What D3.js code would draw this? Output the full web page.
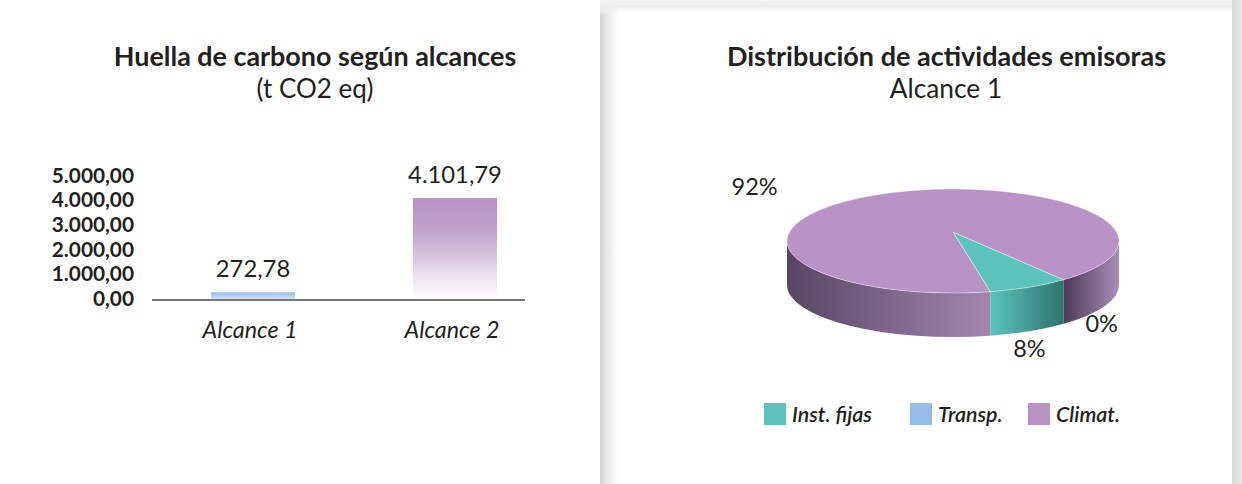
<!DOCTYPE html>
<html>
<head>
<meta charset="utf-8">
<script src="https://cdn.jsdelivr.net/npm/d3@7"></script>
<style>
  html, body { margin: 0; padding: 0; background: #ffffff; }
  svg { display: block; font-family: Lato, "Noto Sans", sans-serif; }
</style>
</head>
<body>
<svg id="chart" width="1242" height="484"></svg>
<script>
// ---------- DATA ----------
const barCategories = ["Alcance 1", "Alcance 2"];
const barValues = [272.78, 4101.79];
const barValueLabels = ["272,78", "4.101,79"];
const barTicks = [0, 1000, 2000, 3000, 4000, 5000];
const barTickLabels = ["0,00", "1.000,00", "2.000,00", "3.000,00", "4.000,00", "5.000,00"];

const pieCategories = ["Inst. fijas", "Transp.", "Climat."];
const pieValues = [8, 0, 92];
const pieLabels = ["8%", "0%", "92%"];

// ---------- STYLE ----------
const pieColors = ["#5cc4bc", "#94bde6", "#b794c3"];
const textColor = "#231f20";

const svg = d3.select("#chart");
const defs = svg.append("defs");

function linGrad(id, x1, y1, x2, y2, stops, userSpace) {
  const g = defs.append("linearGradient").attr("id", id)
    .attr("x1", x1).attr("y1", y1).attr("x2", x2).attr("y2", y2);
  if (userSpace) g.attr("gradientUnits", "userSpaceOnUse");
  stops.forEach(s => g.append("stop").attr("offset", s[0]).attr("stop-color", s[1]));
  return "url(#" + id + ")";
}

// ---------- RIGHT CARD BACKGROUND ----------
const card = svg.append("g");
card.append("rect").attr("x", 1232).attr("y", 0).attr("width", 10).attr("height", 484)
  .attr("fill", linGrad("gR", 0, 0, 1, 0, [[0, "#d9d9d9"], [1, "#e6e6e6"]]));
card.append("rect").attr("x", 600).attr("y", 0).attr("width", 18).attr("height", 484)
  .attr("fill", linGrad("gL", 0, 0, 1, 0, [[0, "#d2d2d2"], [0.5, "#ececec"], [1, "#ffffff"]]));
card.append("rect").attr("x", 600).attr("y", 0).attr("width", 632).attr("height", 16)
  .attr("fill", linGrad("gT", 0, 0, 0, 1, [[0, "#f4f4f4"], [0.4, "#ececec"], [1, "rgba(255,255,255,0)"]]));

// ---------- BAR CHART ----------
const x = d3.scaleBand().domain(barCategories).range([152, 556]).paddingInner(0.584).paddingOuter(0.292);
const y = d3.scaleLinear().domain([0, 5000]).range([299, 176]);

const barGrads = [
  linGrad("gb0", 0, 0, 0, 1, [[0, "#96bde5"], [1, "#d2e2f3"]]),
  linGrad("gb1", 0, 0, 0, 1, [[0, "#b692c2"], [0.35, "#c2a5cd"], [1, "#ffffff"]])
];

const bars = svg.append("g");
bars.selectAll("rect").data(barValues).join("rect")
  .attr("x", (d, i) => x(barCategories[i]))
  .attr("width", x.bandwidth())
  .attr("y", d => y(d))
  .attr("height", d => y(0) - y(d))
  .attr("fill", (d, i) => barGrads[i]);

// value labels
bars.selectAll("text").data(barValues).join("text")
  .attr("x", (d, i) => x(barCategories[i]) + x.bandwidth() / 2)
  .attr("y", d => y(d) - 15)
  .attr("text-anchor", "middle")
  .attr("font-size", 23.8)
  .attr("fill", textColor)
  .text((d, i) => barValueLabels[i]);

// y axis
const yAxis = d3.axisLeft(y).tickValues(barTicks).tickSize(0).tickPadding(0)
  .tickFormat((d, i) => barTickLabels[i]);
const yg = svg.append("g").attr("transform", "translate(134,0)").call(yAxis);
yg.select(".domain").remove();
yg.selectAll("text").attr("font-family", "Lato").attr("font-size", 20.8).attr("font-weight", 700)
  .attr("fill", textColor).attr("dy", "0.3em");

// x axis
const xAxis = d3.axisBottom(x).tickSize(0).tickPadding(0);
const xg = svg.append("g").attr("transform", "translate(-3,300)").call(xAxis);
xg.select(".domain").remove();
xg.selectAll("text").attr("font-family", "Lato").attr("font-size", 23.3).attr("font-style", "italic")
  .attr("fill", textColor).attr("dy", 0).attr("y", 38);
svg.append("line").attr("x1", 152).attr("x2", 525).attr("y1", 300).attr("y2", 300)
  .attr("stroke", "#767676").attr("stroke-width", 2);

// titles
svg.append("text").attr("x", 315).attr("y", 66).attr("text-anchor", "middle")
  .attr("font-size", 26.9).attr("font-weight", 700).attr("fill", textColor)
  .text("Huella de carbono según alcances");
svg.append("text").attr("x", 315).attr("y", 98).attr("text-anchor", "middle")
  .attr("font-size", 26).attr("fill", textColor).text("(t CO2 eq)");
svg.append("text").attr("x", 946.5).attr("y", 66).attr("text-anchor", "middle")
  .attr("font-size", 27).attr("font-weight", 700).attr("fill", textColor)
  .text("Distribución de actividades emisoras");
svg.append("text").attr("x", 946).attr("y", 98).attr("text-anchor", "middle")
  .attr("font-size", 26.3).attr("fill", textColor).text("Alcance 1");

// ---------- 3D PIE ----------
const cx = 953, cy = 241, rx = 166, ry = 52, depth = 44;
const apex = [953, 232];
const deg = Math.PI / 180;
const start = 167 * deg;
const pie = d3.pie().sort(null).value(d => d).startAngle(start).endAngle(start - 2 * Math.PI);
const arcs = pie(pieValues);

const P = (a, dy = 0) => [cx + rx * Math.sin(a), cy - ry * Math.cos(a) + dy];

function arcSeg(a0, a1, dy) {
  const p1 = P(a1, dy);
  const large = (a1 - a0) > Math.PI ? 1 : 0;
  return `A${rx},${ry} 0 ${large} 1 ${p1[0]},${p1[1]}`;
}
function sidePath(s, e) {
  const p0 = P(s), p1 = P(e, depth), q0 = P(s, depth);
  const large = (e - s) > Math.PI ? 1 : 0;
  return `M${p0[0]},${p0[1]}` + arcSeg(s, e, 0) + `L${p1[0]},${p1[1]}` +
    `A${rx},${ry} 0 ${large} 0 ${q0[0]},${q0[1]}Z`;
}

const pieG = svg.append("g");
const sideShade = {
  0: ["#5cc4bc", "#2e736e"],
  2: ["#584563", "#a387b1"]
};
let gi = 0;
arcs.forEach((d, i) => {
  let lo = Math.min(d.startAngle, d.endAngle), hi = Math.max(d.startAngle, d.endAngle);
  if (hi - lo < 1e-6) return;
  for (let k = -2; k <= 2; k++) {
    const fs = Math.PI / 2 + k * 2 * Math.PI, fe = 3 * Math.PI / 2 + k * 2 * Math.PI;
    const s = Math.max(lo, fs), e = Math.min(hi, fe);
    if (e - s > 1e-6) {
      const xa = P(s)[0], xb = P(e)[0];
      const xl = Math.min(xa, xb), xr = Math.max(xa, xb);
      const c = sideShade[i] || [pieColors[i], d3.color(pieColors[i]).darker(1).formatHex()];
      let stops;
      if (i === 2 && xl > cx) stops = [[0, "#4e3b57"], [1, "#a98db7"]];
      else stops = [[0, c[0]], [1, c[1]]];
      const fill = linGrad("side" + (gi++), xl, 0, xr, 0, stops, true);
      pieG.append("path").attr("d", sidePath(s, e)).attr("fill", fill);
    }
  }
});
// top faces
arcs.forEach((d, i) => {
  const lo = Math.min(d.startAngle, d.endAngle), hi = Math.max(d.startAngle, d.endAngle);
  if (hi - lo < 1e-6) return;
  const p0 = P(lo);
  pieG.append("path")
    .attr("d", `M${apex[0]},${apex[1]}L${p0[0]},${p0[1]}` + arcSeg(lo, hi, 0) + "Z")
    .attr("fill", pieColors[i])
    .attr("stroke", "rgba(255,255,255,0.55)").attr("stroke-width", 0.7);
});

// pie labels (placed from slice mid angle with layout nudges)
const labelNudge = [[0, 18], [38, 0], [-122, -8]];
arcs.forEach((d, i) => {
  const m = (d.startAngle + d.endAngle) / 2;
  const front = Math.cos(m) < 0;
  const p = P(m, front ? depth : 0);
  pieG.append("text")
    .attr("x", p[0] + labelNudge[i][0]).attr("y", p[1] + labelNudge[i][1])
    .attr("dy", "0.35em").attr("text-anchor", "middle")
    .attr("font-size", 23.5).attr("fill", textColor)
    .text(pieLabels[i]);
});

// legend
const legendX = [764, 910, 1028];
const lg = svg.append("g");
pieCategories.forEach((c, i) => {
  lg.append("rect").attr("x", legendX[i]).attr("y", 403).attr("width", 22).attr("height", 22)
    .attr("fill", pieColors[i]);
  lg.append("text").attr("x", legendX[i] + 28).attr("y", 421.5)
    .attr("font-size", 21.4).attr("font-style", "italic").attr("font-weight", 600)
    .attr("fill", textColor).text(c);
});
</script>
</body>
</html>
